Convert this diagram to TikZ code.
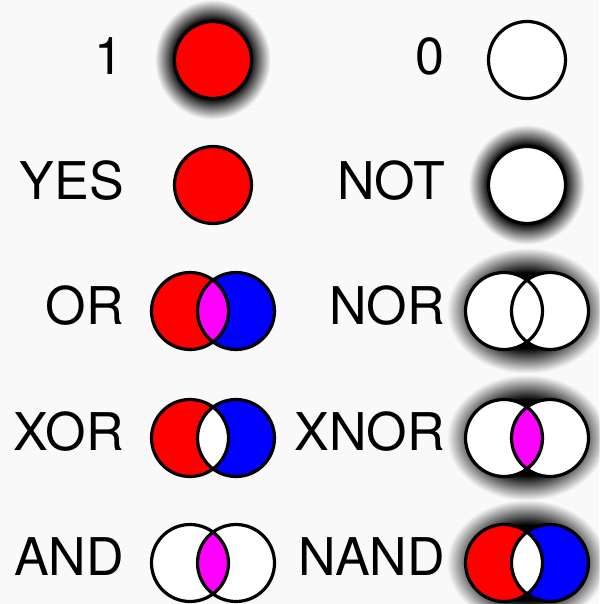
\documentclass[tikz,border=0pt]{standalone}
\usepackage{fontspec}
\setmainfont{TeX Gyre Heros}
\definecolor{bgc}{RGB}{249,249,249}
\definecolor{pred}{RGB}{255,0,0}
\definecolor{pblue}{RGB}{0,0,255}
\definecolor{pmag}{RGB}{255,0,255}
\tikzset{
  outline/.style={draw=black,line width=3.2pt},
  lbl/.style={anchor=east,inner sep=0pt,font=\fontsize{52}{60}\selectfont}
}
% glow: centre x, centre y, semi-axis a, semi-axis b (outer extent), inner black fraction
\newcommand\glowat[5]{%
  \foreach \k in {0,...,50}{%
    \pgfmathsetmacro\gT{1-\k/50}%
    \pgfmathsetmacro\gS{#5+(1-#5)*\gT}%
    \pgfmathsetmacro\gM{100*(1-\gT)}%
    \fill[black!\gM!bgc] (#1,#2) ellipse [x radius={#3*\gS*1pt}, y radius={#4*\gS*1pt}];
  }%
}
% single circle: x, y, colour
\newcommand\onecirc[3]{%
  \fill[#3] (#1,#2) circle (38.5pt);
  \draw[outline] (#1,#2) circle (38.5pt);
}
% pair: x, y, left colour, right colour, middle colour
\newcommand\venn[5]{%
  \fill[#3] ({#1-23},#2) circle (38.5pt);
  \fill[#4] ({#1+23},#2) circle (38.5pt);
  \begin{scope}
    \clip ({#1-23},#2) circle (38.5pt);
    \fill[#5] ({#1+23},#2) circle (38.5pt);
  \end{scope}
  \draw[outline] ({#1-23},#2) circle (38.5pt) ({#1+23},#2) circle (38.5pt);
}
\begin{document}
\begin{tikzpicture}[x=1pt,y=-1pt]
\useasboundingbox (0,0) rectangle (599,604);
\clip (0,0) rectangle (599,604);
\fill[bgc] (0,0) rectangle (599,604);

% row 1
\node[lbl] (l1) at (124,56) {1};
\glowat{213}{60}{58}{60}{0.65}
\onecirc{213}{60}{pred}
\node[lbl] (l0) at (445,56) {0};
\onecirc{527}{60}{white}

% row 2
\node[lbl] (lyes) at (124,181) {YES};
\onecirc{213}{185}{pred}
\node[lbl] (lnot) at (445,181) {NOT};
\glowat{527}{185}{58}{60}{0.65}
\onecirc{527}{185}{white}

% row 3
\node[lbl] (lor) at (124,306) {OR};
\venn{213}{311}{pred}{pblue}{pmag}
\node[lbl] (lnor) at (445,306) {NOR};
\glowat{527}{311}{80}{63}{0.6}
\venn{527}{311}{white}{white}{white}

% row 4
\node[lbl] (lxor) at (124,432) {XOR};
\venn{213}{438}{pred}{pblue}{white}
\node[lbl] (lxnor) at (445,432) {XNOR};
\glowat{527}{438}{80}{63}{0.6}
\venn{527}{438}{white}{white}{pmag}

% row 5
\node[lbl] (land) at (124,557) {AND};
\venn{213}{563}{white}{white}{pmag}
\node[lbl] (lnand) at (445,557) {NAND};
\glowat{527}{563}{80}{63}{0.6}
\venn{527}{563}{pred}{pblue}{white}
\end{tikzpicture}
\end{document}
